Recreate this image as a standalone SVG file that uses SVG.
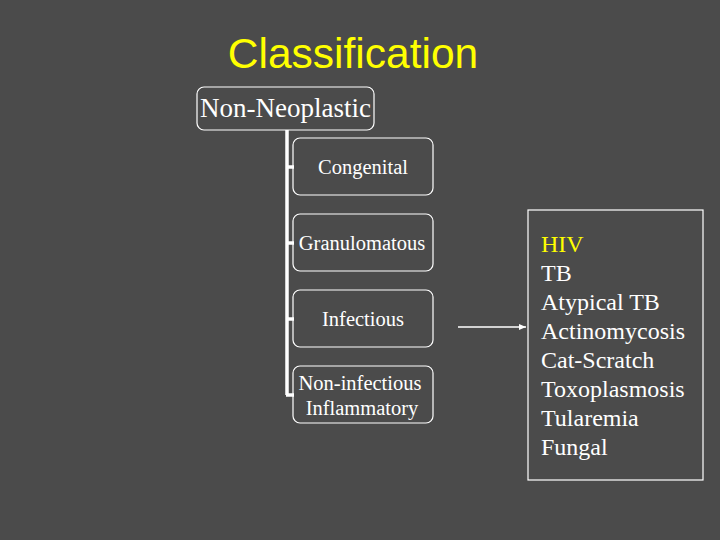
<svg xmlns="http://www.w3.org/2000/svg" width="720" height="540" viewBox="0 0 720 540">
<style>
.b{fill:none;stroke:#fff;stroke-width:1.2}
.t{font-family:"Liberation Serif",serif;fill:#fff;text-anchor:middle;font-size:20.5px}
.l{font-family:"Liberation Serif",serif;fill:#fff;font-size:24px}
</style>
<defs><marker id="a" markerWidth="8" markerHeight="8" refX="7" refY="4" orient="auto" markerUnits="userSpaceOnUse"><path d="M0,1 L7,4 L0,7 Z" fill="#fff"/></marker></defs>
<rect width="720" height="540" fill="#4b4b4b"/>
<text x="353" y="68" font-family="Liberation Sans,sans-serif" font-size="42.5" fill="#ffff00" text-anchor="middle">Classification</text>
<g id="connectors" stroke="#fff" fill="none">
<path d="M287,130 V395" stroke-width="3.5"/>
<path d="M286,167 H294 M286,243 H294 M286,319 H294 M286,395 H294" stroke-width="3.5"/>
<path d="M458,327 H526" stroke-width="1.5" marker-end="url(#a)"/>
</g>
<g id="root"><rect class="b" x="197" y="87" width="177" height="43" rx="7"/><text class="t" x="285.5" y="117" style="font-size:27px">Non-Neoplastic</text></g>
<g id="congenital"><rect class="b" x="293" y="138" width="140" height="57" rx="7"/><text class="t" x="363" y="174">Congenital</text></g>
<g id="granulomatous"><rect class="b" x="293" y="214" width="140" height="57" rx="7"/><text class="t" x="362" y="250">Granulomatous</text></g>
<g id="infectious"><rect class="b" x="293" y="290" width="140" height="57" rx="7"/><text class="t" x="363" y="326">Infectious</text></g>
<g id="noninf"><rect class="b" x="293" y="366" width="140" height="57" rx="7"/><text class="t" x="360" y="390">Non-infectious</text><text class="t" x="362" y="415">Inflammatory</text></g>
<g id="list"><rect class="b" x="528" y="210" width="175" height="270"/>
<text class="l" x="541" y="252" style="fill:#ffff00">HIV</text>
<text class="l" x="541" y="281">TB</text>
<text class="l" x="541" y="310">Atypical TB</text>
<text class="l" x="541" y="339">Actinomycosis</text>
<text class="l" x="541" y="368">Cat-Scratch</text>
<text class="l" x="541" y="397">Toxoplasmosis</text>
<text class="l" x="541" y="426">Tularemia</text>
<text class="l" x="541" y="455">Fungal</text>
</g>
</svg>
